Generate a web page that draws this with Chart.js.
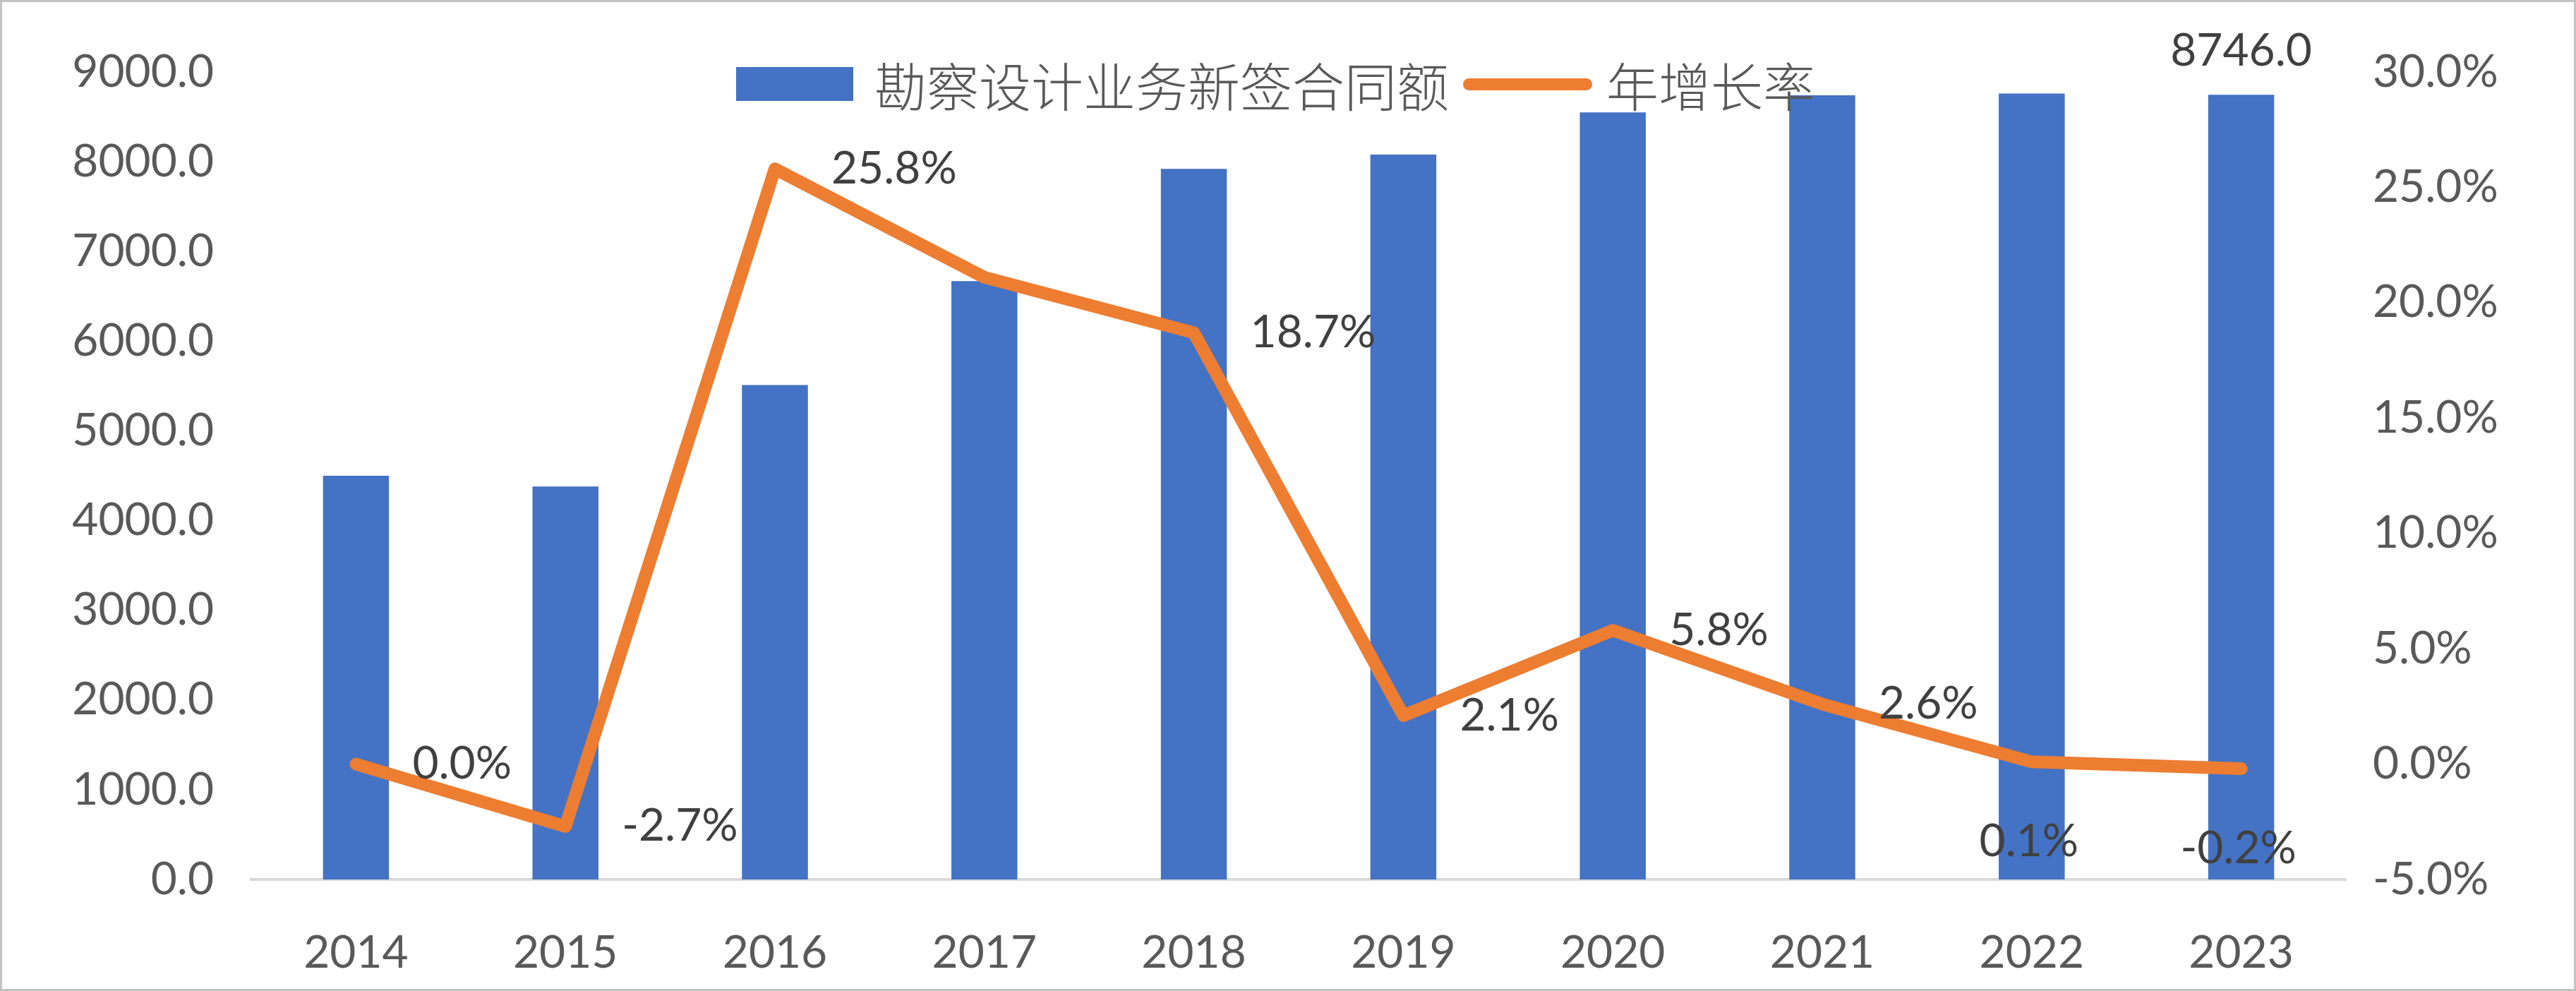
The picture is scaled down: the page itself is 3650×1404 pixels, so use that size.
<!DOCTYPE html>
<html>
<head>
<meta charset="utf-8">
<script src="https://cdn.jsdelivr.net/npm/chart.js@4"></script>
<style>
  html, body { margin: 0; padding: 0; background: #fff; }
  .frame {
    position: relative;
    width: 3650px;
    height: 1404px;
    box-sizing: border-box;
    border: 3px solid #c3c3c3;
    background: #fff;
  }
  .plot { position: absolute; left: 0; top: 0; width: 3644px; height: 1398px; }
  .legend {
    position: absolute;
    left: 1040px;
    top: 80px;
    height: 72px;
    display: flex;
    align-items: center;
    font-family: 'Noto Sans CJK SC', sans-serif;
    font-weight: 300;
    font-size: 74px;
    line-height: 1;
    color: #595959;
    white-space: nowrap;
  }
  .legend .box { width: 166px; height: 48px; margin-right: 30px; }
  .legend .stroke { width: 183px; height: 17px; border-radius: 9px; margin-right: 20px; }
  .legend .label { margin-right: 20px; }
</style>
</head>
<body>
<div class="frame">
  <div class="plot"><canvas id="chart"></canvas></div>
  <div class="legend" id="legend"></div>
</div>
<script>
// DATA
var years = ['2014', '2015', '2016', '2017', '2018', '2019', '2020', '2021', '2022', '2023']
var contractValue = [4500, 4380, 5510, 6670, 7920, 8080, 8550, 8740, 8760, 8746]
var growthRate = [0.0, -2.7, 25.8, 21.1, 18.7, 2.1, 5.8, 2.6, 0.1, -0.2]
var leftTicks = [0, 1000, 2000, 3000, 4000, 5000, 6000, 7000, 8000, 9000]
var rightTicks = [-5, 0, 5, 10, 15, 20, 25, 30]

// COLORS
var blue = '#4472C4'
var orange = '#ED7D31'
var axisText = '#595959'
var labelText = '#404040'
var axisLine = '#d9d9d9'

var numFont = { family: 'Lato, "Liberation Sans", sans-serif', size: 64 }

// legend made of real html text, built from the datasets
var htmlLegend = {
  id: 'htmlLegend',
  afterUpdate: function (chart) {
    var box = document.getElementById('legend')
    box.innerHTML = ''
    chart.data.datasets.forEach(function (ds) {
      var mark = document.createElement('span')
      mark.className = ds.type === 'line' ? 'stroke' : 'box'
      mark.style.background = ds.type === 'line' ? ds.borderColor : ds.backgroundColor
      var txt = document.createElement('span')
      txt.className = 'label'
      txt.textContent = ds.label
      box.appendChild(mark)
      box.appendChild(txt)
    })
  }
}

// value labels like the excel ones
var valueLabels = {
  id: 'valueLabels',
  afterDatasetsDraw: function (chart, args, opts) {
    var ctx = chart.ctx
    ctx.save()
    ctx.font = numFont.size + 'px ' + numFont.family
    ctx.fillStyle = labelText

    var barMeta = chart.getDatasetMeta(0)
    opts.barShown.forEach(function (i) {
      var el = barMeta.data[i]
      ctx.textAlign = 'center'
      ctx.textBaseline = 'middle'
      ctx.fillText(contractValue[i].toFixed(1), el.x, el.y - 62)
    })

    var lineMeta = chart.getDatasetMeta(1)
    lineMeta.data.forEach(function (pt, i) {
      if (opts.lineHidden.indexOf(i) >= 0) return
      var txt = growthRate[i].toFixed(1) + '%'
      ctx.textBaseline = 'middle'
      if (opts.lineBelow.indexOf(i) >= 0) {
        ctx.textAlign = 'center'
        ctx.fillText(txt, pt.x - 4, pt.y + 113)
      } else {
        ctx.textAlign = 'left'
        ctx.fillText(txt, pt.x + 80, pt.y)
      }
    })
    ctx.restore()
  }
}

var ctx = document.getElementById('chart')
var myChart = new Chart(ctx, {
  data: {
    labels: years,
    datasets: [
      {
        type: 'bar',
        label: '勘察设计业务新签合同额',
        data: contractValue,
        backgroundColor: blue,
        yAxisID: 'y',
        categoryPercentage: 1,
        barPercentage: 0.315,
        order: 2
      },
      {
        type: 'line',
        label: '年增长率',
        data: growthRate,
        borderColor: orange,
        backgroundColor: orange,
        borderWidth: 18,
        pointRadius: 0,
        tension: 0,
        borderJoinStyle: 'round',
        borderCapStyle: 'round',
        yAxisID: 'y1',
        order: 1
      }
    ]
  },
  options: {
    responsive: true,
    maintainAspectRatio: false,
    devicePixelRatio: 1,
    animation: false,
    layout: { padding: { top: 99, left: 0, right: 0, bottom: 0 } },
    plugins: {
      legend: { display: false },
      tooltip: { enabled: false },
      valueLabels: { barShown: [9], lineHidden: [3], lineBelow: [8, 9] }
    },
    scales: {
      x: {
        grid: { display: false },
        border: { display: true, color: axisLine, width: 4 },
        ticks: { color: axisText, font: numFont, padding: 58, maxRotation: 0 },
        afterFit: function (s) { s.height = 155 }
      },
      y: {
        position: 'left',
        min: leftTicks[0],
        max: leftTicks[leftTicks.length - 1],
        grid: { display: false, drawTicks: false },
        border: { display: false },
        afterBuildTicks: function (s) { s.ticks = leftTicks.map(function (v) { return { value: v } }) },
        ticks: {
          color: axisText,
          font: numFont,
          padding: 53,
          callback: function (v) { return Number(v).toFixed(1) }
        },
        afterFit: function (s) { s.width = 353 }
      },
      y1: {
        position: 'right',
        min: rightTicks[0],
        max: rightTicks[rightTicks.length - 1],
        grid: { display: false, drawTicks: false },
        border: { display: false },
        afterBuildTicks: function (s) { s.ticks = rightTicks.map(function (v) { return { value: v } }) },
        ticks: {
          color: axisText,
          font: numFont,
          padding: 38,
          callback: function (v) { return Number(v).toFixed(1) + '%' }
        },
        afterFit: function (s) { s.width = 323 }
      }
    }
  },
  plugins: [htmlLegend, valueLabels]
})
</script>
</body>
</html>
